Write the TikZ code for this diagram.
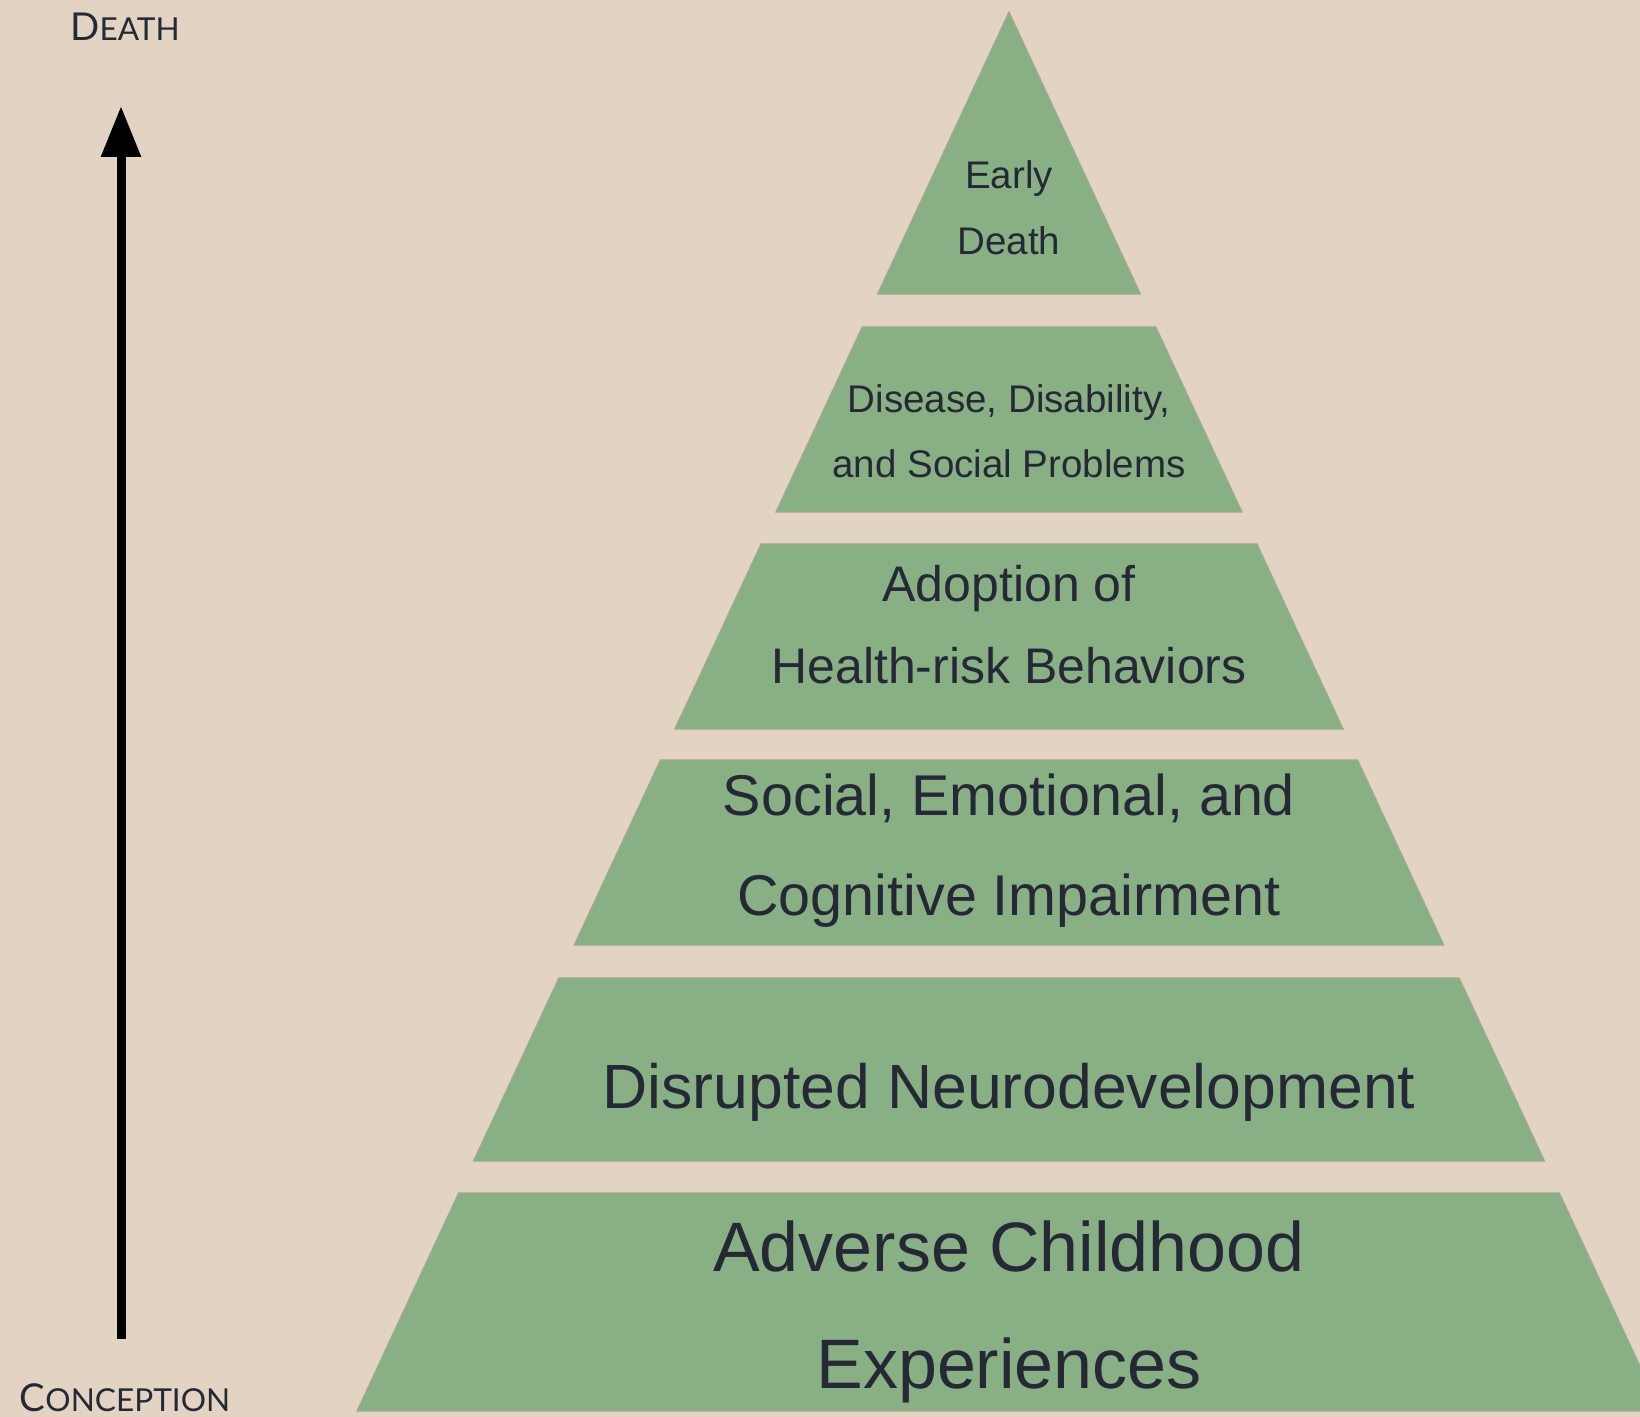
\documentclass[tikz,border=0pt]{standalone}
\usepackage{fontspec}
\setmainfont{Liberation Sans}
\newfontfamily\labelfont{Lato}
\usetikzlibrary{arrows.meta}
\definecolor{sand}{RGB}{226,211,195}
\definecolor{sage}{RGB}{137,176,132}
\definecolor{sageedge}{RGB}{158,170,143}
\definecolor{ink}{RGB}{37,41,54}
\newcommand{\SmallCap}[2]{{\fontsize{19.2pt}{20pt}\selectfont #1}{\fontsize{15.8pt}{17pt}\selectfont #2}}

\begin{document}
\begin{tikzpicture}[x=0.5pt,y=-0.5pt,
  band/.style={fill=sage,draw=sageedge,line width=0.6pt},
  tier/.style={text=ink,align=center,inner sep=0pt},
  axislabel/.style={text=ink,inner sep=0pt,anchor=base,font=\labelfont}]
  \useasboundingbox (0,0) rectangle (1640,1417);
  \fill[sand] (0,0) rectangle (1640,1417);
  \clip (0,0) rectangle (1640,1417);
  % pyramid bands, apex at (1009,12)
  \foreach \yt/\yb in {12/294,327/512,544/729,760/945,978/1161,1193/1411}
    \draw[band] ({1009-0.466*(\yt-12)},\yt) -- ({1009+0.466*(\yt-12)},\yt)
      -- ({1009+0.466*(\yb-12)},\yb) -- ({1009-0.466*(\yb-12)},\yb) -- cycle;
  \node[tier,font={\fontsize{19.25pt}{33pt}\selectfont}] (early) at (1009,208) {Early\\Death};
  \node[tier,font={\fontsize{19.25pt}{32.5pt}\selectfont}] (disease) at (1009,431.5) {Disease, Disability,\\and Social Problems};
  \node[tier,font={\fontsize{25pt}{41pt}\selectfont}] (risk) at (1009,625) {Adoption of\\Health-risk Behaviors};
  \node[tier,font={\fontsize{28.75pt}{50pt}\selectfont}] (impair) at (1009,851) {Social, Emotional, and\\Cognitive Impairment};
  \node[tier,anchor=base,font={\fontsize{31.25pt}{36pt}\selectfont}] (neuro) at (1009,1108) {Disrupted Neurodevelopment};
  \node[tier,font={\fontsize{35pt}{58.5pt}\selectfont}] (aces) at (1009,1311.5) {Adverse Childhood\\Experiences};
  % life course axis
  \node[axislabel] (death) at (125,41) {\SmallCap{D}{EATH}};
  \node[axislabel] (conception) at (125,1411) {\SmallCap{C}{ONCEPTION}};
  \coordinate (start) at (121,1339);
  \coordinate (finish) at (121,106);
  \draw[line width=4.5pt,-{Triangle[length=25.5pt,width=19pt]}] (start) -- (finish);
\end{tikzpicture}
\end{document}
